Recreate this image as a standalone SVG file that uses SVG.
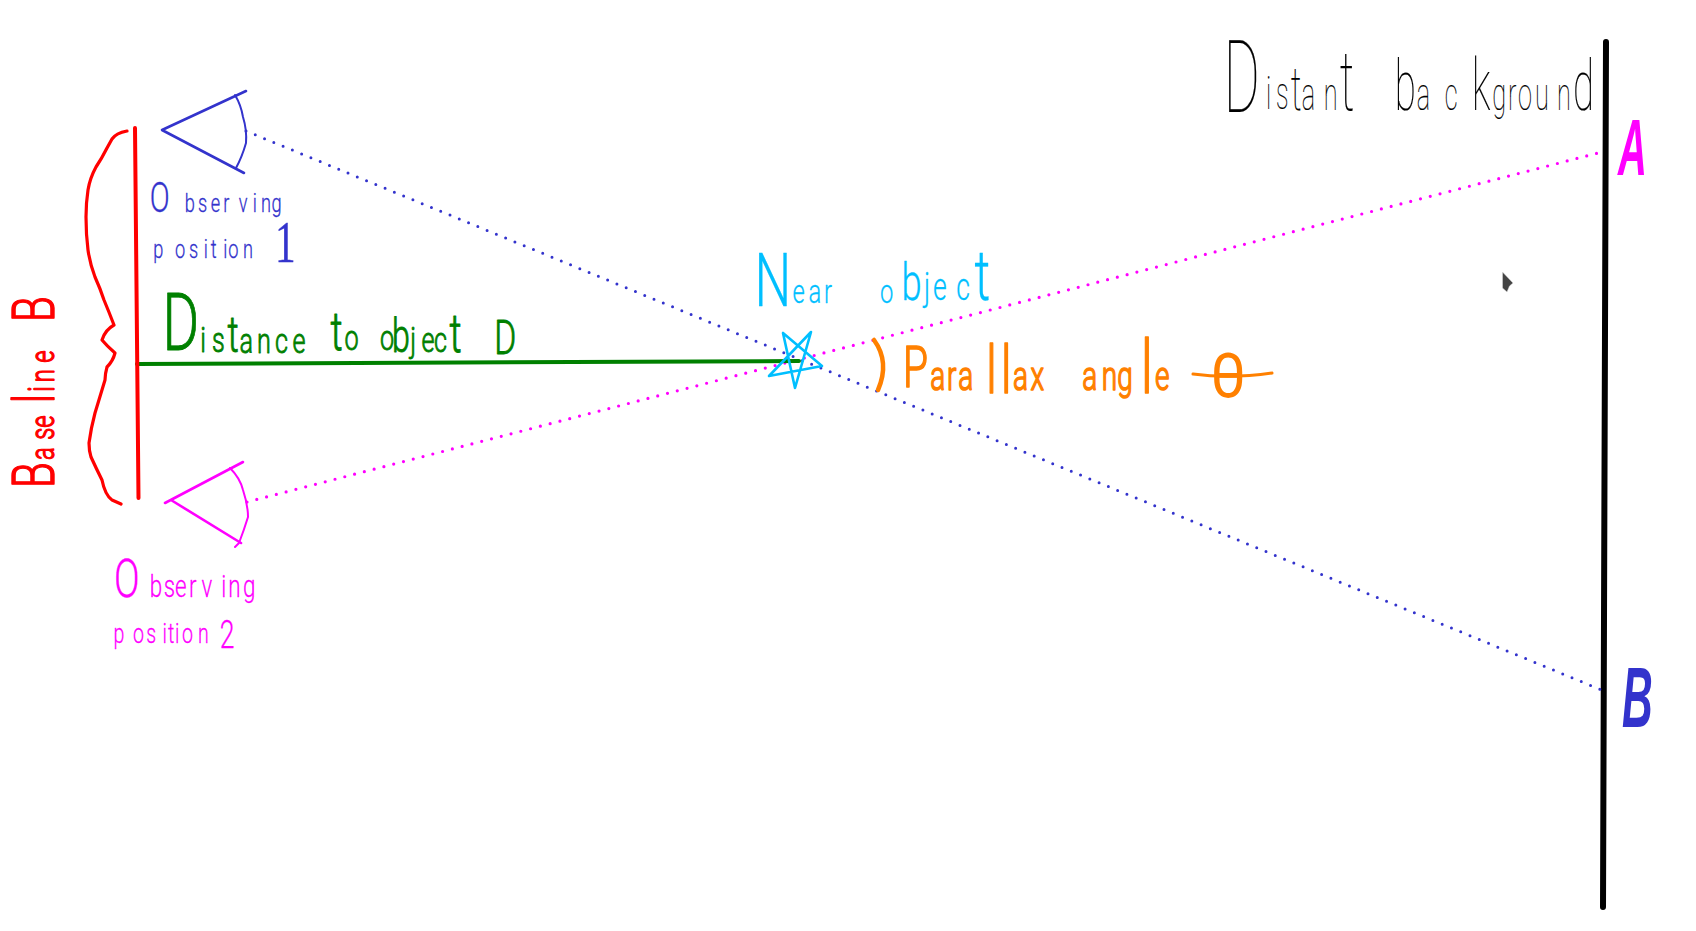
<svg xmlns="http://www.w3.org/2000/svg" width="1696" height="931" viewBox="0 0 1696 931">
<style>
.s{fill:none;stroke-linecap:round;stroke-linejoin:round}
text{font-family:Roboto,"Liberation Sans",sans-serif;font-weight:300}
.hand{stroke-linejoin:round}
.blue{fill:#3333cc;stroke:#3333cc}
.mag{fill:#ff00ff;stroke:#ff00ff}
.red{fill:#ff0000;stroke:#ff0000}
.green{fill:#008000;stroke:#008000}
.cyan{fill:#00bfff;stroke:#00bfff}
.orange{fill:#ff8000;stroke:#ff8000}
.black{fill:#000;stroke:#000}
.big{font-family:"Liberation Sans",sans-serif;font-weight:700;font-style:italic}
.dotb{stroke:#3333cc;stroke-width:3;stroke-dasharray:0 10.030;fill:none;stroke-linecap:round}
.dotm{stroke:#ff00ff;stroke-width:3.2;stroke-dasharray:0 10.100;fill:none;stroke-linecap:round}
</style>
<rect width="1696" height="931" fill="#fff"/>
<g id="background">
<path class="s" stroke="#000" stroke-width="6" d="M1606 42L1603 907"/>
<text class="hand black" stroke-width=".2" style="font-weight:100" transform="scale(.55,1)"><tspan x="2225" y="112" font-size="100">D</tspan><tspan x="2302 2320" y="109" font-size="46">is</tspan><tspan x="2347" y="110" font-size="62">t</tspan><tspan x="2367 2407" y="110" font-size="46">an</tspan><tspan x="2436" y="110" font-size="84">t</tspan><tspan x="2490" y="110" font-size="46"> </tspan><tspan x="2536" y="110" font-size="70">b</tspan><tspan x="2576 2627" y="110" font-size="46">ac</tspan><tspan x="2676" y="110" font-size="72">k</tspan><tspan x="2713 2742 2760 2791 2831" y="110" font-size="46">groun</tspan><tspan x="2860" y="110" font-size="70">d</tspan></text>
<polygon points="1502.500,272 1513,283 1509.500,286 1507,292 1502.500,288" fill="#444" stroke="#ddd" stroke-width=".5"/>
<text class="big" fill="#ff00ff" font-size="80" transform="scale(.5,1)" x="3236" y="175">A</text>
<text class="big" fill="#3333cc" font-size="85" transform="scale(.5,1)" x="3244" y="727">B</text>
</g>
<g id="connectors">
<path class="dotb" d="M246 131L1609 693"/>
<path class="dotm" d="M247 502L1598 153"/>
<path class="s" stroke="#008000" stroke-width="4" d="M137 364L799 361"/>
</g>
<g id="baseline">
<path class="s" stroke="#ff0000" stroke-width="4" d="M135 128L138.500 498"/>
<path class="s" stroke="#ff0000" stroke-width="3.200" d="M127 131Q116 133 112 139L107 148Q102 158 96 167Q90 178 88 190Q86 203 86 217Q86 234 88 250Q90 264 95 277Q100 288 104 300Q109 312 114 325Q105 330 102 340Q107 346 115 353Q113 361 107 367Q105 374 105 380L95 413Q91 428 89 443Q89 451 91 457Q96 468 102 480Q105 495 112 500L121 504"/>
<text class="hand red" stroke-width="1.400" transform="translate(54,488) rotate(-90) scale(.7,1)"><tspan x="0" font-size="60">B</tspan><tspan x="40 69 86" font-size="34">ase</tspan><tspan x="121" font-size="58">l</tspan><tspan x="137" font-size="37">i</tspan><tspan x="151 179 214" font-size="34">ne </tspan><tspan x="237" font-size="60">B</tspan></text>
</g>
<g id="observer1">
<path class="s" stroke="#3333cc" stroke-width="2.600" d="M246 91L162 130L244 173"/>
<path class="s" stroke="#3333cc" stroke-width="2" d="M235 95Q241 105 243 117Q247 130 246 143Q242 157 236 168"/>
<text class="hand blue" stroke-width=".3" transform="scale(.7,1)"><tspan x="214" y="212" font-size="42">O</tspan><tspan x="264 283 301 319 341 361 373 388" y="212" font-size="26">bserving</tspan><tspan x="405" y="212" font-size="26"> </tspan><tspan x="219 250 270 291 301 319 326 347" y="258" font-size="26">position</tspan><tspan x="375" y="258" font-size="26"> </tspan><tspan x="393" y="262" font-size="59" font-family="Liberation Serif">1</tspan></text>
</g>
<g id="observer2">
<path class="s" stroke="#ff00ff" stroke-width="2.600" d="M243 462L165 503M171 500L241 543"/>
<path class="s" stroke="#ff00ff" stroke-width="2" d="M230 468Q240 478 243 490Q248 505 248 517Q244 530 239 543L235 547"/>
<text class="hand mag" stroke-width=".3" transform="scale(.7,1)"><tspan x="163" y="597" font-size="54">O</tspan><tspan x="214 234 250 270 288 316 326 347" y="597" font-size="32">bserving</tspan><tspan x="365" y="597" font-size="32"> </tspan><tspan x="162 190 209 232 240 250 260 283" y="643" font-size="28">position</tspan><tspan x="303" y="643" font-size="28"> </tspan><tspan x="314" y="648" font-size="38">2</tspan></text>
</g>
<g id="distance-label">
<text class="hand green" stroke-width=".9" transform="scale(.7,1)"><tspan x="232" y="350" font-size="80">D</tspan><tspan x="286 303" y="352" font-size="36">is</tspan><tspan x="325" y="352" font-size="50">t</tspan><tspan x="342 367 393 418 444" y="353" font-size="36">ance </tspan><tspan x="472" y="350" font-size="54">t</tspan><tspan x="492 525 543" y="350" font-size="36">o o</tspan><tspan x="560" y="352" font-size="46">b</tspan><tspan x="586 602 620" y="352" font-size="36">jec</tspan><tspan x="642" y="352" font-size="54">t</tspan><tspan x="678" y="352" font-size="36"> </tspan><tspan x="706" y="354" font-size="48">D</tspan></text>
</g>
<g id="near-object">
<path class="s" stroke="#00bfff" stroke-width="2.600" d="M783 333L795 388L811 332L769 376L822 366Z"/>
<text class="hand cyan" stroke-width=".3" transform="scale(.7,1)"><tspan x="1078" y="306" font-size="74">N</tspan><tspan x="1132 1155 1177 1197 1257" y="303" font-size="34">ear o</tspan><tspan x="1288" y="300" font-size="52">b</tspan><tspan x="1320 1333 1366" y="300" font-size="38">jec</tspan><tspan x="1392" y="300" font-size="70">t</tspan></text>
</g>
<g id="parallax">
<path class="s" stroke="#ff8000" stroke-width="4.500" d="M874 340Q890 362 878 390"/>
<path class="s" stroke="#ff8000" stroke-width="3" d="M1193 374Q1230 379 1272 373"/>
<text class="hand orange" stroke-width="1.600" transform="scale(.7,1)"><tspan x="1290" y="387" font-size="58">P</tspan><tspan x="1329 1353 1369" y="390" font-size="40">ara</tspan><tspan x="1409 1430" y="393" font-size="66">ll</tspan><tspan x="1447 1472 1496 1546 1574 1596" y="390" font-size="40">ax ang</tspan><tspan x="1630" y="393" font-size="74">l</tspan><tspan x="1650 1690" y="390" font-size="40">e </tspan></text>
<text class="hand orange" stroke-width="1.800" font-size="60" x="1211" y="396">θ</text>
</g>
</svg>
